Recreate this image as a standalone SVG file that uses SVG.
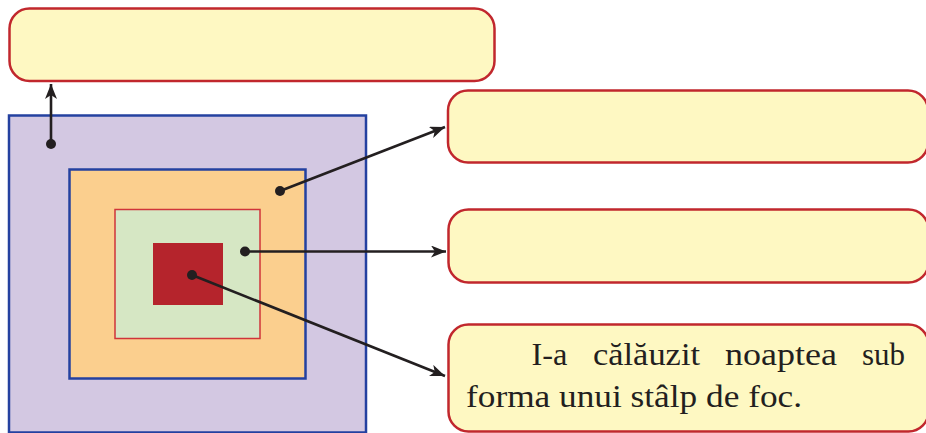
<svg xmlns="http://www.w3.org/2000/svg" width="926" height="433" viewBox="0 0 926 433">
<defs>
<style>
.box{fill:#fef8c2;stroke:#c1272d;stroke-width:2.5}
.ln{stroke:#231f20;stroke-width:2.6;fill:none}
.dot{fill:#231f20}
.t{font-family:"Liberation Serif","Times New Roman",serif;font-size:32px;fill:#231f20}
</style>
<marker id="ah" viewBox="0 0 15 12" refX="15" refY="6" markerWidth="15" markerHeight="12" markerUnits="userSpaceOnUse" orient="auto">
<path d="M0,0 L15,6 L0,12 L4,6 Z" fill="#231f20"/>
</marker>
</defs>
<rect width="926" height="433" fill="#fff"/>
<g id="layers">
<rect id="outer" x="9" y="115.5" width="357" height="317" fill="#d3c8e2" stroke="#2441a0" stroke-width="2.5"/>
<rect id="orange" x="69.5" y="169.5" width="236" height="209" fill="#fbcf8e" stroke="#2441a0" stroke-width="2.5"/>
<rect id="green" x="115" y="209.5" width="145" height="129" fill="#d6e7c4" stroke="#d0343a" stroke-width="1.5"/>
<rect id="core" x="153" y="243" width="70" height="62" fill="#b5242c"/>
</g>
<g id="box-top"><rect class="box" x="9.5" y="8.5" width="485" height="72.5" rx="20"/></g>
<g id="box-1"><rect class="box" x="448" y="90.5" width="480" height="72" rx="20"/></g>
<g id="box-2"><rect class="box" x="448.5" y="209.5" width="480" height="73" rx="20"/></g>
<g id="box-3"><rect class="box" x="448.5" y="324.5" width="480" height="107" rx="20"/>
<text class="t" x="531.5" y="365" textLength="36" lengthAdjust="spacingAndGlyphs">I-a</text>
<text class="t" x="593" y="365" textLength="107" lengthAdjust="spacingAndGlyphs">călăuzit</text>
<text class="t" x="725" y="365" textLength="112" lengthAdjust="spacingAndGlyphs">noaptea</text>
<text class="t" x="862" y="365" textLength="43" lengthAdjust="spacingAndGlyphs">sub</text>
<text class="t" x="466" y="407" textLength="336" lengthAdjust="spacingAndGlyphs">forma unui stâlp de foc.</text>
</g>
<g id="connectors">
<line class="ln" x1="51" y1="144" x2="51" y2="84" marker-end="url(#ah)"/>
<line class="ln" x1="280" y1="191" x2="445" y2="127" marker-end="url(#ah)"/>
<line class="ln" x1="245" y1="251.5" x2="446" y2="251.5" marker-end="url(#ah)"/>
<line class="ln" x1="192" y1="275" x2="445" y2="376" marker-end="url(#ah)"/>
<circle class="dot" cx="51" cy="144" r="5"/>
<circle class="dot" cx="280" cy="191" r="5"/>
<circle class="dot" cx="245" cy="251.5" r="5"/>
<circle class="dot" cx="192" cy="275" r="5"/>
</g>
</svg>
